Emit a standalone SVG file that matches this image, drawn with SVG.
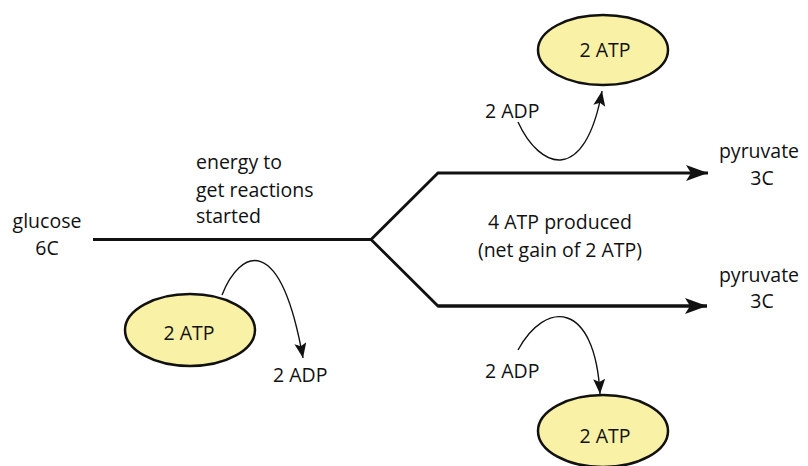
<svg xmlns="http://www.w3.org/2000/svg" width="808" height="466" viewBox="0 0 808 466">
<style>
text{font-family:"Open Sans","Noto Sans","Liberation Sans",sans-serif;font-size:19.5px;fill:#111}
.atp{fill:#f9f1a5;stroke:#111;stroke-width:2.5}
.main{fill:none;stroke:#111;stroke-width:2.8;stroke-linejoin:miter}
.thin{fill:none;stroke:#111;stroke-width:1.4}
</style>
<defs>
<marker id="big" markerUnits="userSpaceOnUse" markerWidth="24" markerHeight="18" refX="22" refY="8" orient="auto">
<path d="M0,0 L22,8 L0,16 L5,8 Z" fill="#111"/>
</marker>
<marker id="small" markerUnits="userSpaceOnUse" markerWidth="16" markerHeight="14" refX="15" refY="6" orient="auto">
<path d="M0,0 L15,6 L0,12 L3,6 Z" fill="#111"/>
</marker>
</defs>
<g id="connectors">
<path class="main" d="M93,239.5 L371,239.5 L438,173 L708,173" marker-end="url(#big)"/>
<path class="main" d="M371,239.5 L438,306 L707,306"/>
<path class="main" d="M438,306 L707,306" marker-end="url(#big)"/>
<path class="thin" d="M222,295 C240,250 280,230 303,358" marker-end="url(#small)"/>
<path class="thin" d="M518,122 C540,170 585,185 602,91" marker-end="url(#small)"/>
<path class="thin" d="M518,350 C545,300 595,300 600,394" marker-end="url(#small)"/>
</g>
<g id="glucose"><text x="47" y="228" text-anchor="middle">glucose</text><text x="47" y="255" text-anchor="middle">6C</text></g>
<g id="energy"><text x="196" y="169">energy to</text><text x="196" y="197">get reactions</text><text x="196" y="223">started</text></g>
<g id="atp-left"><ellipse class="atp" cx="190" cy="330" rx="65" ry="36"/><text x="189" y="340" text-anchor="middle">2 ATP</text></g>
<g id="adp-left"><text x="273" y="382">2 ADP</text></g>
<g id="atp-top"><ellipse class="atp" cx="603" cy="50" rx="65" ry="35"/><text x="605" y="57" text-anchor="middle">2 ATP</text></g>
<g id="adp-top"><text x="485" y="118">2 ADP</text></g>
<g id="produced"><text x="560" y="229" text-anchor="middle">4 ATP produced</text><text x="560" y="257" text-anchor="middle">(net gain of 2 ATP)</text></g>
<g id="pyruvate-top"><text x="759" y="158" text-anchor="middle">pyruvate</text><text x="762" y="185" text-anchor="middle">3C</text></g>
<g id="pyruvate-bottom"><text x="759" y="282" text-anchor="middle">pyruvate</text><text x="762" y="308" text-anchor="middle">3C</text></g>
<g id="adp-bottom"><text x="485" y="378">2 ADP</text></g>
<g id="atp-bottom"><ellipse class="atp" cx="603" cy="431" rx="65" ry="36"/><text x="605" y="443" text-anchor="middle">2 ATP</text></g>
</svg>
